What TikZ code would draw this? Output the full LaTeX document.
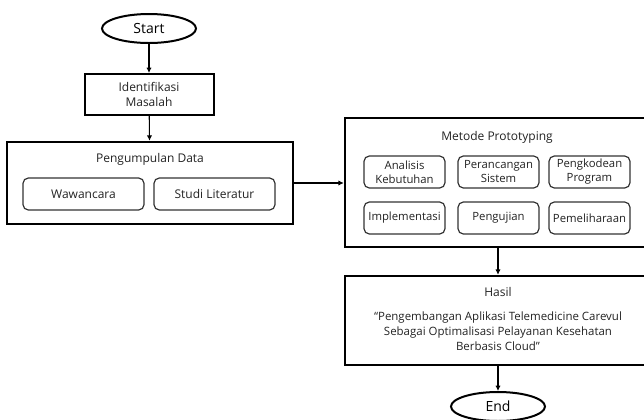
\documentclass[tikz,border=0pt]{standalone}
\usepackage{fontspec}
\setmainfont{Open Sans}
\usetikzlibrary{positioning,arrows.meta,shapes.geometric}
\definecolor{txt}{HTML}{222222}

\begin{document}
\begin{tikzpicture}[x=0.75pt,y=-0.75pt,
  every node/.style={font=\fontsize{9}{11}\selectfont, text=txt},
  terminal/.style={
    draw, ellipse, line width=1.5pt, inner sep=0pt,
    minimum width=70.5pt, minimum height=21.75pt,
    font=\fontsize{10.5}{12}\selectfont, text=black,
  },
  stepbox/.style={
    draw, line width=1.5pt, align=center, inner sep=0pt,
    minimum width=96.75pt, minimum height=30.75pt,
  },
  group/.style={
    draw, line width=1.8pt, inner sep=0pt,
  },
  subbox/.style={
    draw=black!80, line width=0.9pt, rounded corners=4pt, align=center,
    inner sep=0pt, minimum height=24pt,
  },
  flow/.style={-{Latex[length=4pt,width=4pt]}, line width=0.8pt},
]
  \useasboundingbox (0,0) rectangle (644,419);
  \clip (0,0) rectangle (644,419);

  % Left column
  \node[terminal] (start) at (149,28.5) {Start};
  \node[stepbox] (ident) at (149,94.5) {Identifikasi\\Masalah};

  \node[group, minimum width=214.5pt, minimum height=61.5pt] (kumpul) at (150,183) {};
  \node (kumpulT) at (150,159) {Pengumpulan Data};
  \node[subbox, minimum width=90.75pt] (wawan) at (83.5,194) {Wawancara};
  \node[subbox, minimum width=90.75pt] (studi) at (214.5,194) {Studi Literatur};

  % Right column
  \node[group, minimum width=229.5pt, minimum height=96.75pt] (metode) at (498,182.5) {};
  \node (metodeT) at (497,137) {Metode Prototyping};
  \node[subbox, minimum width=60.75pt, font=\fontsize{8.5}{10.5}\selectfont] (analisis) at (404.5,172) {Analisis\\Kebutuhan};
  \node[subbox, minimum width=60.75pt, font=\fontsize{8.5}{10.5}\selectfont] (rancang) at (498.5,172) {Perancangan\\Sistem};
  \node[subbox, minimum width=60.75pt, font=\fontsize{8.5}{10.5}\selectfont] (kode) at (589.5,172) {Pengkodean\\Program};
  \node[subbox, minimum width=60.75pt, font=\fontsize{8.5}{10.5}\selectfont] (impl) at (404.5,218) {Implementasi};
  \node[subbox, minimum width=60.75pt, font=\fontsize{8.5}{10.5}\selectfont] (uji) at (498.5,218) {Pengujian};
  \node[subbox, minimum width=60.75pt, font=\fontsize{8.5}{10.5}\selectfont] (pelihara) at (589.5,218) {Pemeliharaan};

  \node[group, minimum width=229.5pt, minimum height=66.75pt] (hasil) at (498,320.5) {};
  \node (hasilT) at (498,292) {Hasil};
  \node[align=center, font=\fontsize{8.6}{11.2}\selectfont] (judul) at (498,331)
    {“Pengembangan Aplikasi Telemedicine Carevul\\Sebagai Optimalisasi Pelayanan Kesehatan\\Berbasis Cloud”};

  \node[terminal] (stop) at (498,406.5) {End};

  % Connectors
  \draw[flow] (start) -- (ident);
  \draw[flow] (ident) -- (kumpul);
  \draw[flow] (kumpul.east) -- (kumpul.east -| metode.west);
  \draw[flow] (metode) -- (hasil);
  \draw[flow] (hasil) -- (stop);
\end{tikzpicture}
\end{document}
